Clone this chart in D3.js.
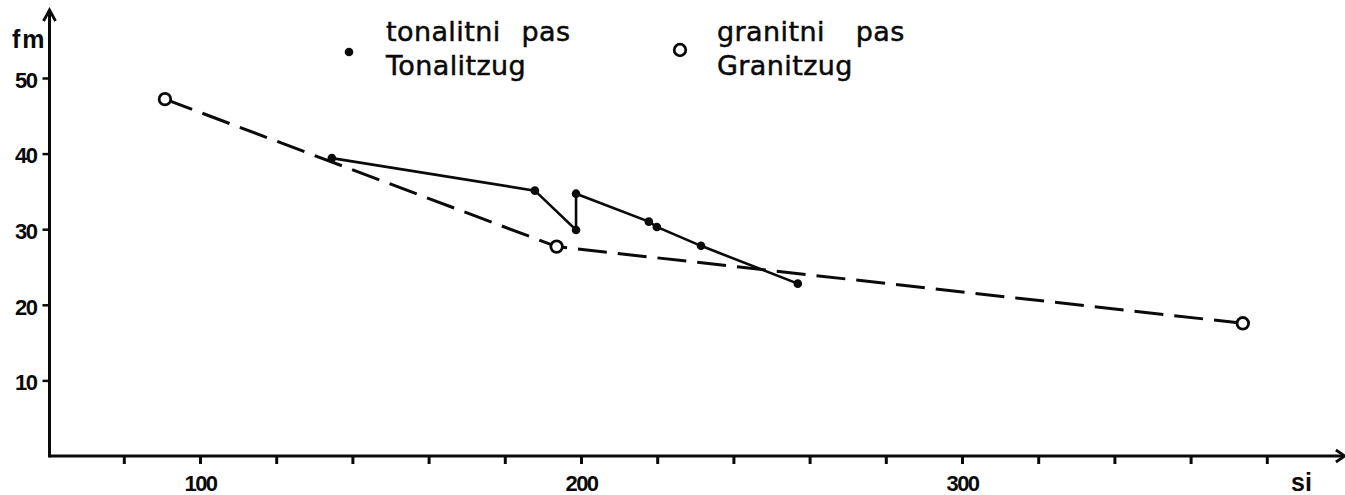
<!DOCTYPE html>
<html>
<head>
<meta charset="utf-8">
<script src="https://cdn.jsdelivr.net/npm/d3@7/dist/d3.min.js"></script>
<style>
  html, body { margin: 0; padding: 0; background: #fff; }
  svg { display: block; }
</style>
</head>
<body>
<svg id="chart" width="1345" height="495"></svg>
<script>
// ---- data ----
const tonalitSi = [134.6, 187.9, 198.7, 198.7, 217.8, 219.9, 231.5, 256.9];
const tonalitFm = [39.4, 35.1, 29.9, 34.7, 31.0, 30.3, 27.8, 22.8];
const granitSi = [90.8, 193.6, 373.7];
const granitFm = [47.2, 27.7, 17.55];
const xTicks = [80, 100, 120, 140, 160, 180, 200, 220, 240, 260, 280, 300, 320, 340, 360, 380];
const xTickLabels = [100, 200, 300];
const yTicks = [10, 20, 30, 40, 50];
const legendLines = [["tonalitni", "pas", "Tonalitzug"], ["granitni", "pas", "Granitzug"]];
const xDomainFull = [60.5, 400.5];
const yDomainFull = [0, 59];

const svg = d3.select("#chart");
const x = d3.scaleLinear().domain([100, 300]).range([200, 962]);
const y = d3.scaleLinear().domain([0, 50]).range([456, 78]);

const ink = "#0a0a0a";
const x0 = x(xDomainFull[0]);
const y0 = y(yDomainFull[0]);
const boldFont = "'Liberation Sans', Arial, sans-serif";

// axes lines
svg.append("line").attr("x1", x0).attr("x2", x(xDomainFull[1]) - 1)
  .attr("y1", y0).attr("y2", y0).attr("stroke", ink).attr("stroke-width", 3);
svg.append("line").attr("x1", x0).attr("x2", x0)
  .attr("y1", y0 + 1.5).attr("y2", y(yDomainFull[1]) + 1).attr("stroke", ink).attr("stroke-width", 3);

// arrow heads
const ax = x(xDomainFull[1]);
svg.append("path").attr("d", `M${ax - 9},${y0 - 6} L${ax},${y0} L${ax - 9},${y0 + 6}`)
  .attr("fill", "none").attr("stroke", ink).attr("stroke-width", 2.8);
const ay = y(yDomainFull[1]);
svg.append("path").attr("d", `M${x0 - 6},${ay + 11} L${x0},${ay} L${x0 + 6},${ay + 11}`)
  .attr("fill", "none").attr("stroke", ink).attr("stroke-width", 2.8);

// x axis ticks via d3 axis
const xAxis = d3.axisBottom(x).tickValues(xTicks).tickSizeOuter(0).tickSizeInner(8)
  .tickFormat(d => xTickLabels.includes(d) ? d : "");
const gx = svg.append("g").attr("transform", `translate(0,${y0})`).call(xAxis);
gx.select(".domain").remove();
gx.selectAll(".tick line").attr("stroke", ink).attr("stroke-width", 3);
gx.selectAll(".tick text").attr("dy", null).attr("y", 35)
  .attr("font-family", boldFont).attr("font-weight", "bold")
  .attr("font-size", 22).attr("fill", ink).attr("letter-spacing", -1.5);

// y axis ticks
const yAxis = d3.axisLeft(y).tickValues(yTicks).tickSizeOuter(0).tickSizeInner(7).tickPadding(6);
const gy = svg.append("g").attr("transform", `translate(${x0},0)`).call(yAxis);
gy.select(".domain").remove();
gy.selectAll(".tick line").attr("stroke", ink).attr("stroke-width", 2.5);
gy.selectAll(".tick text").attr("dy", "0.42em")
  .attr("font-family", boldFont).attr("font-weight", "bold")
  .attr("font-size", 22).attr("fill", ink).attr("letter-spacing", -1.5);

// axis titles
svg.append("text").attr("x", 12).attr("y", 48).text("f m")
  .attr("font-family", boldFont).attr("font-weight", "bold")
  .attr("font-size", 25).attr("fill", ink).attr("letter-spacing", -2.5);
svg.append("text").attr("x", 1291).attr("y", 491).text("si")
  .attr("font-family", boldFont).attr("font-weight", "bold")
  .attr("font-size", 25).attr("fill", ink);

// lines
const gData = granitSi.map((d, i) => [d, granitFm[i]]);
const tData = tonalitSi.map((d, i) => [d, tonalitFm[i]]);
const line = d3.line().x(d => x(d[0])).y(d => y(d[1]));

svg.append("path").attr("d", line(gData)).attr("fill", "none").attr("stroke", ink)
  .attr("stroke-width", 3).attr("stroke-dasharray", "29 11");
svg.append("path").attr("d", line(tData)).attr("fill", "none").attr("stroke", ink)
  .attr("stroke-width", 2.6);

svg.selectAll("circle.g").data(gData).join("circle").attr("class", "g")
  .attr("cx", d => x(d[0])).attr("cy", d => y(d[1])).attr("r", 5.8)
  .attr("fill", "#fff").attr("stroke", ink).attr("stroke-width", 2.8);
svg.selectAll("circle.t").data(tData).join("circle").attr("class", "t")
  .attr("cx", d => x(d[0])).attr("cy", d => y(d[1])).attr("r", 4.3)
  .attr("fill", ink);

// legend
const lg = svg.append("g").attr("font-family", "'DejaVu Sans', sans-serif")
  .attr("font-size", 27).attr("fill", ink).attr("stroke", ink).attr("stroke-width", 0.5)
  .attr("letter-spacing", 0.4);
const legendPos = [{sx: 349, sy: 52, tx: 386, gap: 12, filled: true},
                   {sx: 680, sy: 50, tx: 717, gap: 22, filled: false}];
legendPos.forEach((p, i) => {
  if (p.filled) {
    lg.append("circle").attr("cx", p.sx).attr("cy", p.sy).attr("r", 4.3).attr("stroke", "none");
  } else {
    lg.append("circle").attr("cx", p.sx).attr("cy", p.sy).attr("r", 5.8)
      .attr("fill", "#fff").attr("stroke", ink).attr("stroke-width", 2.8);
  }
  const t1 = lg.append("text").attr("x", p.tx).attr("y", 41);
  t1.append("tspan").text(legendLines[i][0]);
  t1.append("tspan").attr("dx", p.gap).text(" " + legendLines[i][1]);
  lg.append("text").attr("x", p.tx).attr("y", 75).text(legendLines[i][2]);
});
</script>
</body>
</html>
